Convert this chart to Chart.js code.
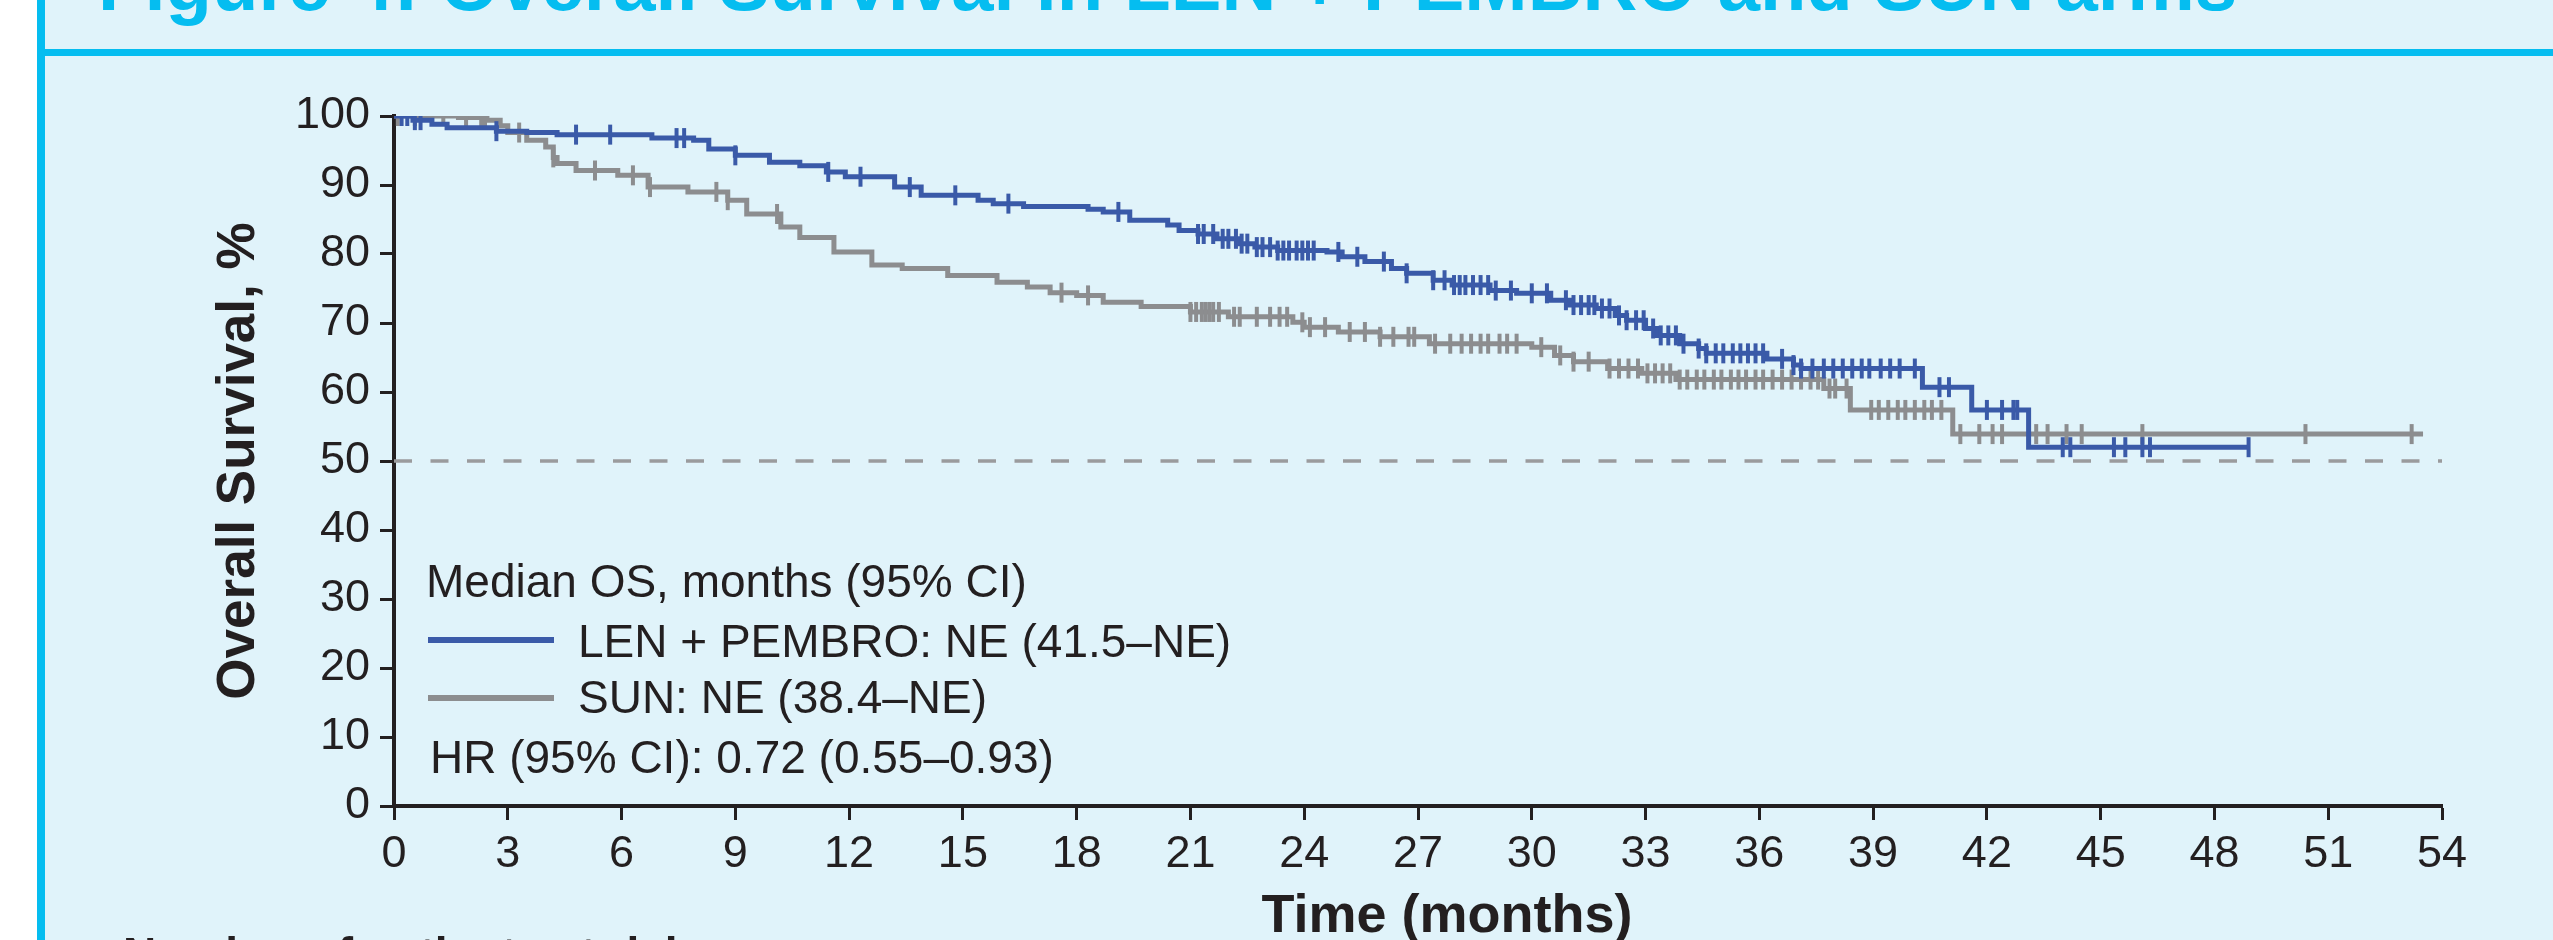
<!DOCTYPE html>
<html>
<head>
<meta charset="utf-8">
<script src="https://cdn.jsdelivr.net/npm/chart.js@4.4.1/dist/chart.umd.min.js"></script>
<style>
  body { margin: 0; width: 2553px; height: 940px; overflow: hidden; background: #fff; font-family: 'Liberation Sans', Arial, sans-serif; }
  #panel { position: absolute; left: 37px; top: 0; width: 2508px; height: 940px; background: #E0F3FA; border-left: 8px solid #05BDF0; }
  #rule { position: absolute; left: 45px; top: 49px; width: 2508px; height: 7px; background: #05BDF0; }
  .txt { position: absolute; white-space: nowrap; line-height: 1; color: #231F20; }
  #title { left: 98px; top: -54px; font-size: 76px; font-weight: bold; color: #05BDF0; }
  #xtitle { left: 1447px; top: 886px; font-size: 54px; font-weight: bold; transform: translateX(-50%); }
  #risk { left: 123px; top: 931px; font-size: 46px; font-weight: bold; }
  .leg { font-size: 46px; }
  .key { position: absolute; left: 428px; width: 126px; height: 6px; }
  canvas { position: absolute; left: 0; top: 0; }
</style>
</head>
<body>
<div id="panel"></div>
<div id="rule"></div>
<div class="txt" id="title">Figure 4: Overall Survival in LEN + PEMBRO and SUN arms</div>
<canvas id="km" width="2553" height="940" style="width:2553px;height:940px"></canvas>
<div class="txt leg" style="left:426px;top:558px">Median OS, months (95% CI)</div>
<div class="key" id="keyLen" style="top:637px"></div>
<div class="txt leg" style="left:578px;top:618px">LEN + PEMBRO: NE (41.5–NE)</div>
<div class="key" id="keySun" style="top:695px"></div>
<div class="txt leg" style="left:578px;top:674px">SUN: NE (38.4–NE)</div>
<div class="txt leg" style="left:430px;top:734px">HR (95% CI): 0.72 (0.55–0.93)</div>
<div class="txt" id="xtitle">Time (months)</div>
<div class="txt" id="risk">Number of patients at risk</div>
<script>
// Kaplan-Meier steps: time (months) where survival (%) drops to the new value
const lenTime = [0, 0.5, 1.0, 1.4, 2.7, 3.5, 4.3, 6.8, 7.9, 8.3, 9.0, 9.9, 10.7, 11.4, 11.9, 13.2, 13.9, 15.4, 15.8, 16.6,
  18.3, 18.7, 19.4, 20.4, 20.7, 21.2, 21.7, 22.3, 22.7, 23.3, 24.6, 25.0, 25.6, 26.3, 26.7, 27.4, 27.9, 28.9, 29.6, 30.5,
  31.0, 31.7, 32.2, 32.5, 33.0, 33.3, 33.9, 34.4, 34.6, 36.2, 36.9, 37.1, 40.3, 41.6, 43.1, 48.9];
const lenSurv = [100, 99.4, 98.8, 98.3, 97.8, 97.6, 97.3, 96.8, 96.5, 95.2, 94.3, 93.3, 92.8, 91.9, 91.2, 89.7, 88.5, 87.8, 87.3, 86.9,
  86.5, 86.1, 84.9, 84.2, 83.4, 82.9, 82.2, 81.5, 81.0, 80.5, 80.3, 79.6, 78.9, 77.9, 77.2, 76.2, 75.5, 74.7, 74.3, 73.3,
  72.6, 72.1, 71.1, 70.4, 69.2, 68.2, 67.0, 66.3, 65.6, 64.8, 63.9, 63.4, 60.7, 57.4, 52.0, 52.0];

const sunTime = [0, 1.7, 2.45, 2.8, 3.0, 3.5, 4.0, 4.2, 4.3, 4.8, 5.9, 6.7, 7.75, 8.8, 9.3, 10.2, 10.7, 11.6, 12.6, 13.4,
  14.6, 15.9, 16.7, 17.3, 18.0, 18.7, 19.7, 21.0, 22.0, 23.7, 24.0, 24.9, 26.0, 27.3, 30.0, 30.6, 31.1, 32.0, 32.9, 33.8,
  37.7, 38.4, 41.1, 53.5];
const sunSurv = [100, 99.8, 99.4, 98.6, 97.6, 96.5, 95.5, 94.0, 93.1, 92.1, 91.4, 89.7, 89.0, 87.8, 85.8, 83.9, 82.4, 80.3, 78.4, 77.9,
  76.9, 75.9, 75.2, 74.4, 74.0, 73.0, 72.4, 71.6, 70.9, 70.1, 69.4, 68.7, 68.0, 67.0, 66.5, 65.3, 64.4, 63.4, 62.7, 61.8,
  60.5, 57.4, 53.9, 53.9];

// censored patients (months)
const lenCensor = [0.2, 0.35, 0.55, 0.7, 2.7, 4.8, 5.7, 7.45, 7.65, 9.0, 11.45, 12.3, 13.6, 14.8, 16.2, 19.1,
  21.2, 21.35, 21.6, 21.85, 22.0, 22.2, 22.35, 22.5, 22.75, 22.9, 23.1, 23.3, 23.45, 23.6, 23.8, 23.95, 24.1, 24.25,
  24.9, 25.4, 26.1, 26.7, 27.4, 27.7, 27.95, 28.1, 28.25, 28.45, 28.65, 28.85, 29.05, 29.45, 30.0, 30.4,
  30.9, 31.1, 31.3, 31.5, 31.65, 31.85, 32.05, 32.3, 32.5, 32.75, 32.95, 33.2, 33.4, 33.6, 33.8, 34.0,
  34.4, 34.6, 34.85, 35.05, 35.3, 35.5, 35.7, 35.9, 36.1, 36.6, 36.9, 37.1, 37.4, 37.7, 37.95, 38.2, 38.45,
  38.7, 38.9, 39.2, 39.45, 39.7, 40.1, 40.75, 41.0, 42.0, 42.4, 42.7, 42.8, 44.0, 44.2, 45.35, 45.65, 46.1, 46.3, 48.9];
const sunCensor = [0.1, 0.55, 1.3, 1.9, 2.3, 2.4, 3.3, 4.2, 5.3, 6.3, 6.75, 8.5, 8.8, 10.1, 17.6, 18.3,
  21.0, 21.15, 21.3, 21.4, 21.5, 21.6, 21.75, 22.15, 22.3, 22.75, 23.1, 23.35, 23.55, 23.95, 24.15, 24.55,
  25.2, 25.6, 26.0, 26.35, 26.75, 26.9, 27.45, 27.85, 28.15, 28.4, 28.65, 28.85, 29.15, 29.35, 29.6, 30.25,
  30.75, 31.1, 31.5, 32.05, 32.3, 32.55, 32.8, 33.05, 33.25, 33.45, 33.65, 33.9, 34.1, 34.35, 34.55, 34.8,
  35.0, 35.25, 35.45, 35.65, 35.9, 36.1, 36.35, 36.6, 36.85, 37.1, 37.35, 37.55, 37.85, 38.0, 38.3,
  38.95, 39.15, 39.4, 39.65, 39.85, 40.1, 40.35, 40.55, 40.8, 41.3, 41.8, 42.15, 42.4, 43.3, 43.6, 44.1, 44.5,
  46.1, 50.4, 53.2];

const refTime = [0, 54];
const refSurv = [50, 50];

const xTicks = [0, 54, 3];   // min, max, step
const yTicks = [0, 100, 10];

const BLUE = '#3A5AA8';
const GREY = '#8C8D8F';
const INK = '#231F20';
const FONT = "'Liberation Sans', Arial, sans-serif";

document.getElementById('keyLen').style.background = BLUE;
document.getElementById('keySun').style.background = GREY;

function pts(xs, ys) {
  return xs.map((x, i) => ({ x: x, y: ys[i] }));
}

// survival value of the step curve at time t
function survAt(times, surv, t) {
  let s = surv[0];
  for (let i = 0; i < times.length; i++) {
    if (times[i] <= t) s = surv[i];
  }
  return s;
}

function censorPts(cens, times, surv) {
  return cens.map(t => ({ x: t, y: survAt(times, surv, t) }));
}

const ctx = document.getElementById('km').getContext('2d');
const chart = new Chart(ctx, {
  type: 'line',
  data: {
    datasets: [
      {
        label: 'LEN + PEMBRO',
        data: pts(lenTime, lenSurv),
        stepped: true,
        borderColor: BLUE,
        borderWidth: 5,
        pointRadius: 0,
        fill: false,
        order: 1
      },
      {
        label: 'LEN + PEMBRO censored',
        data: censorPts(lenCensor, lenTime, lenSurv),
        showLine: false,
        pointStyle: 'line',
        rotation: 90,
        pointRadius: 10,
        pointBorderWidth: 4,
        borderColor: BLUE,
        backgroundColor: BLUE,
        order: 0
      },
      {
        label: 'SUN',
        data: pts(sunTime, sunSurv),
        stepped: true,
        borderColor: GREY,
        borderWidth: 5,
        pointRadius: 0,
        fill: false,
        order: 3
      },
      {
        label: 'SUN censored',
        data: censorPts(sunCensor, sunTime, sunSurv),
        showLine: false,
        pointStyle: 'line',
        rotation: 90,
        pointRadius: 10,
        pointBorderWidth: 4,
        borderColor: GREY,
        backgroundColor: GREY,
        order: 2
      },
      {
        label: 'median',
        data: pts(refTime, refSurv),
        borderColor: '#9A9B9D',
        borderWidth: 3.5,
        borderDash: [18, 18.5],
        pointRadius: 0,
        order: 5
      }
    ]
  },
  options: {
    responsive: false,
    animation: false,
    devicePixelRatio: 1,
    layout: { padding: { left: 180, right: 111, top: 116, bottom: 0 } },
    plugins: { legend: { display: false }, tooltip: { enabled: false } },
    elements: { line: { tension: 0 } },
    scales: {
      x: {
        type: 'linear',
        min: xTicks[0],
        max: xTicks[1],
        ticks: { stepSize: xTicks[2], color: INK, font: { family: FONT, size: 45 }, padding: 8, maxRotation: 0, autoSkip: false },
        grid: { drawOnChartArea: false, tickLength: 14, tickWidth: 3, tickColor: INK },
        border: { color: INK, width: 4 },
        afterFit: s => { s.height = 134; }
      },
      y: {
        type: 'linear',
        min: yTicks[0],
        max: yTicks[1],
        ticks: { stepSize: yTicks[2], color: INK, font: { family: FONT, size: 45 }, padding: 10 },
        grid: { drawOnChartArea: false, tickLength: 14, tickWidth: 3, tickColor: INK },
        border: { color: INK, width: 4 },
        title: { display: true, text: 'Overall Survival, %', color: INK, font: { family: FONT, size: 53, weight: 'bold', lineHeight: 1.1 }, padding: { top: 30, bottom: 0 } },
        afterFit: s => { s.width = 214; }
      }
    }
  }
});
</script>
</body>
</html>
